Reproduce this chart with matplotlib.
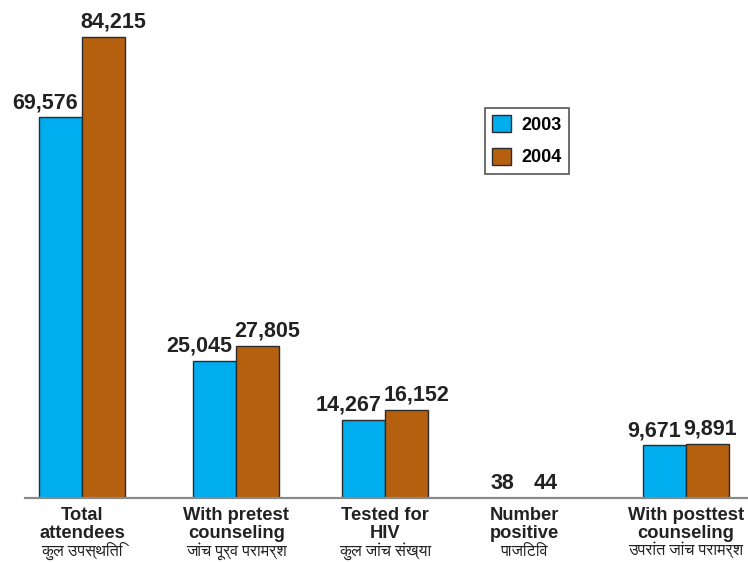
import matplotlib
matplotlib.use("Agg")
import matplotlib.pyplot as plt
from matplotlib import font_manager
from matplotlib.transforms import blended_transform_factory, offset_copy

# counseling & testing centre figures, two years side by side
years = ["2003", "2004"]
vals_2003 = [69576, 25045, 14267, 38, 9671]
vals_2004 = [84215, 27805, 16152, 44, 9891]
labels_en = [["Total", "attendees"],
             ["With pretest", "counseling"],
             ["Tested for", "HIV"],
             ["Number", "positive"],
             ["With posttest", "counseling"]]
labels_hi = ["कुल उपस्थिति", "जांच पूर्व परामर्श", "कुल जांच संख्या", "पाजिटिव", "उपरांत जांच परामर्श"]

# layout (group centres in bar-width units)
group_x = [1.33, 4.91, 8.37, 11.6, 15.35]
BAR_W = 1.0
C03, C04 = "#00AEEF", "#B5600F"
TXT = "#222222"

installed = {f.name for f in font_manager.fontManager.ttflist}
hi_family = [f for f in ["FreeSans", "Noto Sans Devanagari", "Liberation Sans", "DejaVu Sans"] if f in installed]
plt.rcParams["font.family"] = ["Liberation Sans", "DejaVu Sans"]

W, H = 748, 562
fig = plt.figure(figsize=(W / 100, H / 100), dpi=100)
ax = fig.add_axes([25 / W, 64 / H, 723 / W, 498 / H])
ax.set_xlim(0, 16.8)
ax.set_ylim(0, 84215 * 498 / 461)

xl = [x - BAR_W / 2 for x in group_x]
xr = [x + BAR_W / 2 for x in group_x]
b1 = ax.bar(xl, vals_2003, BAR_W, color=C03, edgecolor="#2b2b2b", linewidth=1, label=years[0])
b2 = ax.bar(xr, vals_2004, BAR_W, color=C04, edgecolor="#2b2b2b", linewidth=1, label=years[1])

for spine in ["top", "left", "right"]:
    ax.spines[spine].set_visible(False)
ax.spines["bottom"].set_color("#8a8a8a")
ax.spines["bottom"].set_linewidth(1.6)
ax.set_xticks([]); ax.set_yticks([])


def value_label(rect, v, side):
    # wide numbers pushed outward so the pair doesn't collide
    s = f"{v:,}"
    if len(s) <= 3:
        x, dx, ha = rect.get_x() + rect.get_width() / 2, 0, "center"
    elif side == "left":
        x, dx, ha = rect.get_x() + rect.get_width(), -3, "right"
    else:
        x, dx, ha = rect.get_x(), -1.5, "left"
    ax.annotate(s, (x, v), xytext=(dx, 6.5), textcoords="offset points",
                ha=ha, va="baseline", fontsize=15.5, fontweight="bold", color=TXT)


for rect, v in zip(b1, vals_2003):
    value_label(rect, v, "left")
for rect, v in zip(b2, vals_2004):
    value_label(rect, v, "right")

# category labels under the axis: two bold English lines + Hindi line
trans = blended_transform_factory(ax.transData, ax.transAxes)
for x, en, hi in zip(group_x, labels_en, labels_hi):
    for k, line in enumerate(en):
        t = offset_copy(trans, fig=fig, x=0, y=-(22 + 17.5 * k), units="dots")
        ax.text(x, 0, line, transform=t, ha="center", va="baseline",
                fontsize=13.2, fontweight="bold", color=TXT)
    t = offset_copy(trans, fig=fig, x=0, y=-58, units="dots")
    ax.text(x, 0, hi, transform=t, ha="center", va="baseline",
            fontsize=11.6, color=TXT, family=hi_family)

leg = fig.legend(handles=[b1, b2], loc="upper left",
                 bbox_to_anchor=(485 / W, 1 - 108 / H),
                 prop={"weight": "bold", "size": 13},
                 handlelength=1.05, handleheight=1.05, handletextpad=0.55,
                 labelspacing=0.78, borderpad=0.4, borderaxespad=0,
                 fancybox=False, framealpha=1)
leg.get_frame().set_edgecolor("#555555")
leg.get_frame().set_linewidth(1.2)

fig.savefig("out.png", dpi=100)
